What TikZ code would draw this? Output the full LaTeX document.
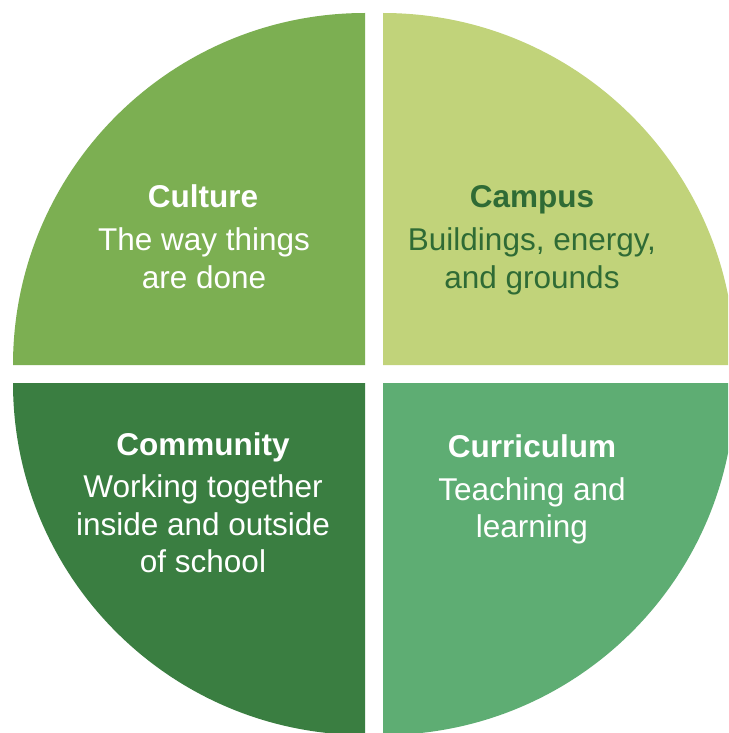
\documentclass[tikz,border=0pt]{standalone}
\usepackage{fontspec}
\setmainfont{Liberation Sans}
\definecolor{culturegreen}{HTML}{7CAF52}
\definecolor{campusgreen}{HTML}{C1D37A}
\definecolor{communitygreen}{HTML}{3A7E41}
\definecolor{curriculumgreen}{HTML}{5EAD73}
\definecolor{darktext}{HTML}{2F6B35}
\begin{document}
\begin{tikzpicture}[x=1pt,y=1pt,
  title/.style={anchor=base,inner sep=0pt,font=\fontsize{31.5}{38}\selectfont\bfseries},
  body/.style={anchor=base,inner sep=0pt,font=\fontsize{31.5}{38}\selectfont}]
  \clip (0,0) rectangle (728,-733);
  \fill[white] (0,0) rectangle (728,-733);
  % four quarter discs separated by white gaps
  \fill[culturegreen] (365,-365) -- (13,-365) arc[start angle=180,end angle=90,radius=352] -- cycle;
  \fill[campusgreen] (383,-365) -- (383,-13) arc[start angle=90,end angle=0,radius=352] -- cycle;
  \fill[communitygreen] (365,-383) -- (13,-383) arc[start angle=180,end angle=270,radius=352] -- cycle;
  \fill[curriculumgreen] (383,-383) -- (735,-383) arc[start angle=0,end angle=-90,radius=352] -- cycle;
  % Culture
  \node[title,white] (cultT) at (203,-207) {Culture};
  \node[body,white] (cult1) at (204,-250) {The way things};
  \node[body,white] (cult2) at (204,-288) {are done};
  % Campus
  \node[title,darktext] (campT) at (532,-207) {Campus};
  \node[body,darktext] (camp1) at (532,-250) {Buildings, energy,};
  \node[body,darktext] (camp2) at (532,-288) {and grounds};
  % Community
  \node[title,white] (commT) at (203,-455) {Community};
  \node[body,white] (comm1) at (203,-497) {Working together};
  \node[body,white] (comm2) at (203,-535) {inside and outside};
  \node[body,white] (comm3) at (203,-572) {of school};
  % Curriculum
  \node[title,white] (currT) at (532,-457) {Curriculum};
  \node[body,white] (curr1) at (532,-500) {Teaching and};
  \node[body,white] (curr2) at (532,-537) {learning};
\end{tikzpicture}
\end{document}
